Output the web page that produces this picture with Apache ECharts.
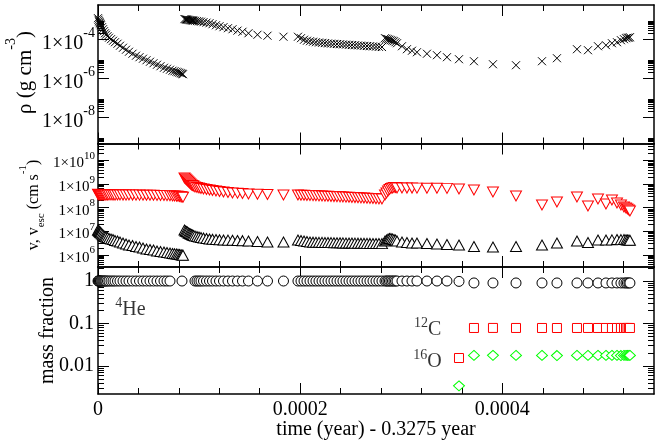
<!DOCTYPE html>
<html>
<head>
<meta charset="utf-8">
<title>density, velocity and mass fraction vs time</title>
<script src="https://cdn.jsdelivr.net/npm/echarts@6/dist/echarts.min.js"></script>
<style>
  html, body { margin: 0; padding: 0; background: #fff; }
  #chart { width: 655px; height: 443px; }
</style>
</head>
<body>
<div id="chart"></div>
<script>
// time (year) - 0.3275 year, one entry per output step
const time = [
  0, 4.9e-7, 9.9e-7, 1.48e-6, 1.98e-6, 2.47e-6, 2.97e-6, 3.96e-6, 4.95e-6, 5.93e-6,
  6.92e-6, 7.91e-6, 9.40e-6, 1.088e-5, 1.286e-5, 1.484e-5, 1.682e-5, 1.929e-5, 2.176e-5, 2.473e-5,
  2.770e-5, 3.066e-5, 3.412e-5, 3.759e-5, 4.105e-5, 4.451e-5, 4.797e-5, 5.143e-5, 5.490e-5, 5.836e-5,
  6.182e-5, 6.528e-5, 6.825e-5, 7.122e-5, 7.369e-5, 7.567e-5, 7.765e-5, 7.913e-5, 8.061e-5, 8.210e-5,
  8.309e-5, 8.408e-5,
  8.556e-5, 8.655e-5, 8.754e-5, 8.853e-5, 8.952e-5, 9.050e-5, 9.149e-5, 9.248e-5, 9.347e-5, 9.446e-5,
  9.594e-5, 9.792e-5, 9.990e-5, 1.0188e-4, 1.0435e-4, 1.0732e-4, 1.1029e-4, 1.1325e-4, 1.1672e-4, 1.2018e-4,
  1.2413e-4, 1.2859e-4, 1.3304e-4, 1.3798e-4, 1.4293e-4, 1.4886e-4, 1.5776e-4, 1.6766e-4, 1.8348e-4,
  1.978e-4, 2.008e-4, 2.038e-4, 2.067e-4, 2.097e-4, 2.127e-4, 2.156e-4, 2.186e-4, 2.216e-4, 2.245e-4,
  2.275e-4, 2.305e-4, 2.334e-4, 2.364e-4, 2.394e-4, 2.423e-4, 2.453e-4, 2.483e-4, 2.512e-4, 2.542e-4,
  2.572e-4, 2.601e-4, 2.631e-4, 2.661e-4, 2.690e-4, 2.720e-4, 2.750e-4, 2.779e-4, 2.809e-4,
  2.839e-4, 2.854e-4, 2.869e-4, 2.883e-4, 2.898e-4, 2.913e-4, 2.928e-4, 2.943e-4, 2.958e-4, 3.007e-4,
  3.056e-4, 3.106e-4, 3.155e-4, 3.254e-4, 3.353e-4, 3.452e-4, 3.571e-4, 3.719e-4, 3.907e-4, 4.135e-4,
  4.392e-4, 4.540e-4, 4.738e-4, 4.847e-4, 4.946e-4, 5.025e-4, 5.084e-4, 5.134e-4, 5.173e-4, 5.203e-4,
  5.223e-4, 5.237e-4, 5.252e-4, 5.262e-4
];

// density (g cm^-3)
const rho = [
  1.24e-3, 1.03e-3, 8.67e-4, 7.71e-4, 6.86e-4, 6.10e-4, 5.41e-4, 4.28e-4, 3.37e-4, 2.67e-4,
  2.10e-4, 1.76e-4, 1.48e-4, 1.24e-4, 1.04e-4, 8.67e-5, 7.27e-5, 6.09e-5, 4.81e-5, 3.80e-5,
  3.00e-5, 2.37e-5, 1.87e-5, 1.48e-5, 1.24e-5, 1.04e-5, 8.67e-6, 7.27e-6, 6.09e-6, 5.10e-6,
  4.28e-6, 3.58e-6, 3.18e-6, 2.83e-6, 2.51e-6, 2.37e-6, 2.23e-6, 2.10e-6, 1.98e-6, 1.87e-6,
  1.76e-6, 1.66e-6,
  1.12e-3, 1.09e-3, 1.06e-3, 1.04e-3, 1.02e-3, 9.95e-4, 9.80e-4, 9.65e-4, 9.50e-4, 9.30e-4,
  9.10e-4, 8.80e-4, 8.55e-4, 8.20e-4, 7.75e-4, 7.30e-4, 6.85e-4, 6.10e-4, 5.40e-4, 4.80e-4,
  4.30e-4, 3.80e-4, 3.37e-4, 2.85e-4, 2.50e-4, 2.10e-4, 1.76e-4, 1.57e-4, 1.39e-4,
  1.39e-4, 1.17e-4, 9.77e-5, 8.67e-5, 8.18e-5, 7.71e-5, 7.27e-5, 7.02e-5, 6.78e-5, 6.54e-5,
  6.31e-5, 6.16e-5, 6.02e-5, 5.88e-5, 5.74e-5, 5.61e-5, 5.48e-5, 5.35e-5, 5.22e-5, 5.10e-5,
  4.98e-5, 4.87e-5, 4.75e-5, 4.64e-5, 4.53e-5, 4.43e-5, 4.33e-5, 4.22e-5, 4.12e-5,
  1.17e-4, 1.10e-4, 1.04e-4, 9.77e-5, 9.20e-5, 8.67e-5, 8.18e-5, 7.27e-5, 6.46e-5, 4.53e-5,
  3.18e-5, 2.67e-5, 2.23e-5, 1.87e-5, 1.57e-5, 1.24e-5, 9.77e-6, 7.71e-6, 5.41e-6, 4.81e-6,
  7.71e-6, 1.10e-5, 3.18e-5, 2.83e-5, 4.53e-5, 5.10e-5, 6.46e-5, 7.27e-5, 9.20e-5, 1.04e-4,
  1.17e-4, 1.24e-4, 1.24e-4, 1.31e-4
];

// velocity v (cm s^-1)
const vel = [
  1.14e7, 1.08e7, 1.03e7, 9.82e6, 9.34e6, 8.89e6, 8.47e6, 7.69e6, 6.97e6, 6.32e6,
  6.02e6, 5.73e6, 5.46e6, 4.95e6, 4.72e6, 4.49e6, 4.07e6, 3.88e6, 3.52e6, 3.19e6,
  2.90e6, 2.63e6, 2.50e6, 2.27e6, 2.16e6, 1.96e6, 1.78e6, 1.69e6, 1.61e6, 1.46e6,
  1.39e6, 1.33e6, 1.26e6, 1.20e6, 1.15e6, 1.13e6, 1.09e6, 1.07e6, 1.04e6, 1.02e6,
  9.91e5, 9.80e5,
  1.14e7, 1.03e7, 9.82e6, 9.34e6, 8.47e6, 8.07e6, 7.69e6, 7.32e6, 6.97e6, 6.64e6,
  6.32e6, 6.02e6, 5.73e6, 5.46e6, 5.20e6, 4.95e6, 4.72e6, 4.65e6, 4.49e6, 4.42e6,
  4.28e6, 4.25e6, 4.20e6, 4.07e6, 4.02e6, 3.88e6, 3.70e6, 3.52e6, 3.52e6,
  4.28e6, 4.07e6, 3.88e6, 3.70e6, 3.52e6, 3.48e6, 3.45e6, 3.42e6, 3.40e6, 3.37e6,
  3.35e6, 3.33e6, 3.30e6, 3.28e6, 3.26e6, 3.24e6, 3.22e6, 3.20e6, 3.19e6, 3.17e6,
  3.15e6, 3.13e6, 3.11e6, 3.10e6, 3.08e6, 3.06e6, 3.05e6, 3.04e6, 3.02e6,
  3.88e6, 4.28e6, 4.72e6, 4.95e6, 4.95e6, 4.72e6, 4.49e6, 4.28e6, 3.88e6, 3.52e6,
  3.35e6, 3.19e6, 3.19e6, 3.04e6, 2.90e6, 2.76e6, 2.63e6, 2.27e6, 2.16e6, 2.27e6,
  2.63e6, 3.19e6, 3.88e6, 3.35e6, 4.28e6, 4.30e6, 4.35e6, 4.49e6, 4.45e6, 4.52e6,
  4.40e6, 4.30e6, 4.25e6, 4.20e6
];

// escape velocity v_esc (cm s^-1)
const vEsc = [
  3.70e8, 3.66e8, 3.62e8, 3.58e8, 3.55e8, 3.50e8, 3.47e8, 3.45e8, 3.44e8, 3.46e8,
  3.45e8, 3.43e8, 3.45e8, 3.47e8, 3.46e8, 3.44e8, 3.42e8, 3.45e8, 3.46e8, 3.44e8,
  3.43e8, 3.45e8, 3.44e8, 3.42e8, 3.43e8, 3.41e8, 3.40e8, 3.38e8, 3.36e8, 3.34e8,
  3.30e8, 3.28e8, 3.25e8, 3.22e8, 3.18e8, 3.15e8, 3.10e8, 3.05e8, 2.98e8, 2.90e8,
  2.84e8, 2.78e8,
  1.81e9, 1.64e9, 1.49e9, 1.35e9, 1.23e9, 1.11e9, 1.01e9, 9.16e8, 8.73e8, 8.30e8,
  7.54e8, 7.18e8, 6.83e8, 6.51e8, 6.20e8, 5.90e8, 5.62e8, 5.36e8, 5.10e8, 4.86e8,
  4.62e8, 4.41e8, 4.20e8, 4.15e8, 4.00e8, 3.81e8, 3.75e8, 3.62e8, 3.45e8,
  3.45e8, 3.40e8, 3.36e8, 3.32e8, 3.29e8, 3.25e8, 3.21e8, 3.17e8, 3.13e8, 3.09e8,
  3.05e8, 3.01e8, 2.97e8, 2.93e8, 2.89e8, 2.85e8, 2.81e8, 2.77e8, 2.73e8, 2.69e8,
  2.65e8, 2.61e8, 2.57e8, 2.53e8, 2.49e8, 2.45e8, 2.41e8, 2.37e8, 2.34e8,
  3.45e8, 4.20e8, 5.10e8, 5.90e8, 6.51e8, 6.83e8, 7.18e8, 7.18e8, 6.90e8, 6.85e8,
  6.80e8, 6.80e8, 6.75e8, 6.70e8, 6.70e8, 6.60e8, 6.20e8, 5.62e8, 4.62e8, 3.13e8,
  1.30e8, 1.75e8, 2.84e8, 1.18e8, 2.34e8, 1.44e8, 2.12e8, 1.58e8, 1.30e8, 1.07e8,
  9.71e7, 8.81e7, 8.00e7, 7.25e7
];

// 4He mass fraction (null: no point drawn for that step)
const he4 = [
  1, 1, 1, 1, 1, 1, 1, 1, 1, 1, 1, 1, 1, 1, 1, 1, 1, 1, 1, 1, 1,
  1, 1, 1, 1, 1, 1, 1, 1, 1, 1, 1, 1, 1, null, null, null, null, null, null, 1, null,
  null, null, null, null, null, null, null, null, null, null,
  1, 1, 1, 1, 1, 1, 1, 1, 1, 1, 1, 1, 1, 1, 1, 1, 1, 1, 1,
  1, 1, 1, 1, 1, 1, 1, 1, 1, 1, 1, 1, 1, 1, 1, 1, 1, 1, 1, 1, 1, 1, 1, 1, 1, 1, 1, 1, 1,
  1, 1, 1, 1, 1, 1, 1, 1, 1, 1, 1, 1, 1, 1, 1, 1, 0.98,
  0.9, 0.9, 0.9, 0.9, 0.9, 0.9, 0.9, 0.9, 0.9, 0.9, 0.9, 0.9, 0.9, 0.9, 0.9, 0.9, 0.9
];

// 12C and 16O only appear in the last steps
const c12 = [0.0154, 0.0784, 0.0786, 0.0785, 0.0784, 0.0783, 0.0784, 0.0785, 0.0784, 0.0784,
  0.0783, 0.0784, 0.0784, 0.0785, 0.0784, 0.0784, 0.0784, 0.0784];
const o16 = [0.0034, 0.0177, 0.0178, 0.0177, 0.0177, 0.0176, 0.0177, 0.0177, 0.0178, 0.0177,
  0.0177, 0.0177, 0.0176, 0.0177, 0.0177, 0.0177, 0.0177, 0.0177];

// isotope names written inside the lower panel
const notes = [
  { time: 3.21e-5, frac: 0.208, mass: '4', el: 'He' },
  { time: 3.26e-4, frac: 0.0722, mass: '12', el: 'C' },
  { time: 3.26e-4, frac: 0.0124, mass: '16', el: 'O' }
];

// axis ticks
const timeMajor = [0, 0.0002, 0.0004];
const timeMinor = [0.00004, 0.00008, 0.00012, 0.00016, 0.00024, 0.00028, 0.00032, 0.00036,
  0.00044, 0.00048, 0.00052];
const rhoDecades = [-10, -8, -6, -4];
const rhoLabels = [-8, -6, -4];
const velDecades = [5, 6, 7, 8, 9, 10];
const velLabels = [6, 7, 8, 9, 10];
const fracDecades = [-3, -2, -1, 0];
const fracLabels = [-2, -1, 0];

const FONT = 'Liberation Serif';

// minor ticks of a log axis: 2..9 times each decade
function logMinor(decades) {
  const out = [];
  decades.forEach(function (n) {
    for (let j = 2; j <= 9; j++) out.push(n + Math.log10(j));
  });
  return out;
}

function rt(size, pad) {
  return { fontFamily: FONT, fontSize: size, color: '#000', padding: pad || [0, 0, 0, 0] };
}

const panels = [
  {
    top: 5, height: 138.5, min: -9.33, max: -2.23,
    major: rhoDecades, minor: logMinor(rhoDecades), labels: rhoLabels,
    label: {
      margin: 3,
      formatter: function (v) { return '{b|1×10}{s|' + v + '}'; },
      rich: { b: rt(20, [9, 0, 0, 0]), s: rt(14, [0, 0, 12, 0]) }
    }
  },
  {
    top: 143.5, height: 123.5, min: 5.49, max: 10.72,
    major: velDecades, minor: logMinor(velDecades), labels: velLabels,
    label: {
      margin: 3,
      formatter: function (v) { return '{b|1×10}{s|' + v + '}'; },
      rich: { b: rt(15, [6, 0, 0, 0]), s: rt(11, [0, 0, 9, 0]) }
    }
  },
  {
    top: 267, height: 127, min: -2.66, max: 0.33,
    major: fracDecades, minor: logMinor(fracDecades), labels: fracLabels,
    label: {
      margin: 4,
      formatter: function (v) { return '{b|' + Math.pow(10, v) + '}'; },
      rich: { b: rt(20) }
    }
  }
];

const grids = [];
const xAxes = [];
const yAxes = [];
const frame = { color: '#000', width: 1.5 };
const tickLine = { color: '#000', width: 1 };

function addX(gi, pos, ticks, len, showLine) {
  xAxes.push({
    type: 'value', gridIndex: gi, position: pos, min: 0, max: 0.00055,
    axisLine: { show: showLine, onZero: false, lineStyle: frame },
    axisTick: { show: true, inside: true, length: len, customValues: ticks, lineStyle: tickLine },
    axisLabel: { show: false },
    splitLine: { show: false }
  });
  return xAxes.length - 1;
}

function addY(gi, p, pos, ticks, len, showLine) {
  yAxes.push({
    type: 'value', gridIndex: gi, position: pos, min: p.min, max: p.max,
    axisLine: { show: showLine, onZero: false, lineStyle: frame },
    axisTick: { show: true, inside: true, length: len, customValues: ticks, lineStyle: tickLine },
    axisLabel: { show: false },
    splitLine: { show: false }
  });
  return yAxes.length - 1;
}

const xMain = [];
const yMain = [];
panels.forEach(function (p, gi) {
  grids.push({ left: 98, right: 1, top: p.top, height: p.height, outerBoundsMode: 'none' });
  xMain.push(addX(gi, 'bottom', timeMajor, 11, true));
  addX(gi, 'bottom', timeMinor, 6, false);
  addX(gi, 'top', timeMajor, 11, true);
  addX(gi, 'top', timeMinor, 6, false);

  const yi = addY(gi, p, 'left', p.major, 11, true);
  yMain.push(yi);
  yAxes[yi].axisLabel = {
    show: true, customValues: p.labels, margin: p.label.margin,
    formatter: p.label.formatter, rich: p.label.rich, color: '#000', fontFamily: FONT
  };
  addY(gi, p, 'left', p.minor, 6, false);
  addY(gi, p, 'right', p.major, 11, true);
  addY(gi, p, 'right', p.minor, 6, false);
});

// plain axis titles
Object.assign(yAxes[yMain[2]], {
  name: 'mass fraction', nameLocation: 'middle', nameRotate: 90, nameGap: 40,
  nameMoveOverlap: false,
  nameTextStyle: { fontFamily: FONT, fontSize: 20, color: '#000' }
});
Object.assign(xAxes[xMain[2]], {
  axisLabel: {
    show: true, customValues: timeMajor, margin: 6, color: '#000',
    fontFamily: FONT, fontSize: 20,
    formatter: function (v) { return v === 0 ? '0' : v.toFixed(4); }
  },
  name: 'time (year) - 0.3275 year', nameLocation: 'middle', nameGap: 26,
  nameMoveOverlap: false,
  nameTextStyle: { fontFamily: FONT, fontSize: 20, color: '#000' }
});

// titles with super/subscripts: pieces laid out along a rotated group,
// dy < 0 raises a piece, dy > 0 lowers it
const measureCtx = document.createElement('canvas').getContext('2d');
function textWidth(text, size) {
  measureCtx.font = size + 'px "' + FONT + '"';
  return measureCtx.measureText(text).width;
}
function rotatedTitle(cx, cy, parts) {
  let total = 0;
  parts.forEach(function (p) { total += textWidth(p.text, p.size); });
  let cur = -total / 2;
  const children = parts.map(function (p) {
    const el = {
      type: 'text', x: cur, y: p.dy,
      style: {
        text: p.text, font: p.size + 'px "' + FONT + '"', fill: '#000',
        align: 'left', verticalAlign: 'middle'
      }
    };
    cur += textWidth(p.text, p.size);
    return el;
  });
  return { type: 'group', x: cx, y: cy, rotation: Math.PI / 2, silent: true, children: children };
}

const titles = [
  rotatedTitle(25.5, 72.5, [
    { text: 'ρ (g cm', size: 21, dy: 0 },
    { text: '-3', size: 14, dy: -14 },
    { text: ')', size: 21, dy: 0 }
  ]),
  rotatedTitle(34, 205, [
    { text: 'v, v', size: 16, dy: 0 },
    { text: 'esc', size: 11, dy: 7 },
    { text: ' (cm s', size: 16, dy: 0 },
    { text: '-1', size: 11, dy: -11 },
    { text: ')', size: 16, dy: 0 }
  ])
];

function logPairs(ts, vals) {
  const out = [];
  vals.forEach(function (val, i) {
    if (val != null) out.push([ts[i], Math.log10(val)]);
  });
  return out;
}

function marks(name, gi, data, symbol, size, stroke, rotate) {
  return {
    name: name, type: 'scatter', xAxisIndex: xMain[gi], yAxisIndex: yMain[gi],
    data: data, symbol: symbol, symbolSize: size, symbolRotate: rotate || 0,
    itemStyle: { color: symbol.indexOf('path://') === 0 ? 'none' : '#fff', borderColor: stroke, borderWidth: 1, opacity: 1 },
    emphasis: { disabled: true }
  };
}

const lateTime = time.slice(time.length - c12.length);

const series = [
  marks('rho', 0, logPairs(time, rho), 'path://M0 0L10 10M10 0L0 10', 8, '#000'),
  marks('v_esc', 1, logPairs(time, vEsc), 'triangle', [11, 10], '#ff0000', 180),
  marks('v', 1, logPairs(time, vel), 'triangle', [11, 10], '#000'),
  marks('4He', 2, logPairs(time, he4), 'circle', 10, '#000'),
  marks('12C', 2, logPairs(lateTime, c12), 'rect', 9, '#ff0000'),
  marks('16O', 2, logPairs(lateTime, o16), 'diamond', [11, 10], '#00ff00'),
  {
    name: 'notes', type: 'scatter', xAxisIndex: xMain[2], yAxisIndex: yMain[2],
    symbolSize: 1, itemStyle: { color: 'transparent' }, silent: true,
    data: notes.map(function (n) {
      return { value: [n.time, Math.log10(n.frac)], mass: n.mass, el: n.el };
    }),
    label: {
      show: true, position: 'inside',
      formatter: function (p) { return '{m|' + p.data.mass + '}{e|' + p.data.el + '}'; },
      rich: { m: rt(14, [0, 0, 13, 0]), e: rt(20) }
    }
  }
];

const chart = echarts.init(document.getElementById('chart'), null, { renderer: 'canvas' });
chart.setOption({
  animation: false,
  backgroundColor: '#fff',
  textStyle: { fontFamily: FONT, color: '#000' },
  grid: grids,
  xAxis: xAxes,
  yAxis: yAxes,
  graphic: titles,
  series: series
});
</script>
</body>
</html>
